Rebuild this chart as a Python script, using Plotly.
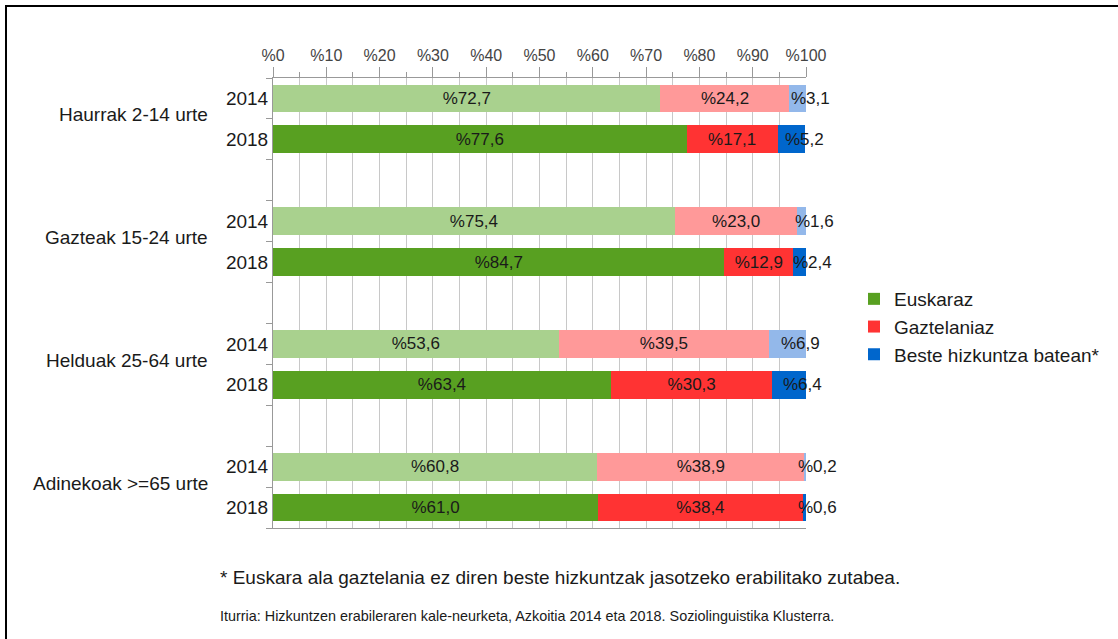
import plotly.graph_objects as go

groups = ["Haurrak 2-14 urte", "Gazteak 15-24 urte", "Helduak 25-64 urte", "Adinekoak >=65 urte"]
years = ["2014", "2018"]
euskaraz_2014 = [72.7, 75.4, 53.6, 60.8]
euskaraz_2018 = [77.6, 84.7, 63.4, 61.0]
gaztelaniaz_2014 = [24.2, 23.0, 39.5, 38.9]
gaztelaniaz_2018 = [17.1, 12.9, 30.3, 38.4]
beste_2014 = [3.1, 1.6, 6.9, 0.2]
beste_2018 = [5.2, 2.4, 6.4, 0.6]
tick_values = list(range(0, 101, 10))
tick_labels = ["%" + str(v) for v in tick_values]

C = {
    "eus": ("#a9d18e", "#58a021"),
    "gaz": ("#ff9999", "#ff3333"),
    "bes": ("#93b8ea", "#0066cc"),
}
FONT = "Liberation Sans, Arial, sans-serif"

def fmt(v):
    return "%" + f"{v:.1f}".replace(".", ",")

pos_2014 = [g * 3 for g in range(len(groups))]
pos_2018 = [g * 3 + 1 for g in range(len(groups))]

fig = go.Figure()
series = [
    ("Euskaraz", "eus", euskaraz_2014, euskaraz_2018),
    ("Gaztelaniaz", "gaz", gaztelaniaz_2014, gaztelaniaz_2018),
    ("Beste hizkuntza batean*", "bes", beste_2014, beste_2018),
]
txtfont = dict(family=FONT, size=17, color="#1a1a1a")
for name, key, v14, v18 in series:
    for yi, (pos, vals) in enumerate([(pos_2014, v14), (pos_2018, v18)]):
        fig.add_trace(go.Bar(
            y=pos, x=vals, orientation="h", name=name,
            marker=dict(color=C[key][yi], line=dict(width=0)),
            text=[fmt(v) for v in vals],
            textposition="none" if key == "bes" else "inside",
            insidetextanchor="middle",
            textfont=txtfont,
            showlegend=(yi == 1), legendgroup=key, legendrank={"eus": 1, "gaz": 2, "bes": 3}[key],
            hoverinfo="skip",
        ))

# labels for the small "other" segments
for pos, e, g, b in [(pos_2014, euskaraz_2014, gaztelaniaz_2014, beste_2014),
                     (pos_2018, euskaraz_2018, gaztelaniaz_2018, beste_2018)]:
    for p, ei, gi, bi in zip(pos, e, g, b):
        fig.add_annotation(x=ei + gi + bi / 2, y=p, xref="x", yref="y", text=fmt(bi),
                           xanchor="center", yanchor="middle", xshift=13, showarrow=False,
                           font=txtfont)

for gi, gname in enumerate(groups):
    fig.add_annotation(x=-0.118, xref="paper", y=gi * 3 + 0.4, yref="y", text=gname,
                       xanchor="right", yanchor="middle", showarrow=False,
                       font=dict(family=FONT, size=19, color="#1a1a1a"))

fig.add_annotation(x=(218 - 273) / 533, xref="paper", y=-(577 - 528) / 450, yref="paper",
                   text="* Euskara ala gaztelania ez diren beste hizkuntzak jasotzeko erabilitako zutabea.",
                   xanchor="left", yanchor="middle", showarrow=False,
                   font=dict(family=FONT, size=19, color="#1a1a1a"))
fig.add_annotation(x=(218 - 273) / 533, xref="paper", y=-(616 - 528) / 450, yref="paper",
                   text="Iturria: Hizkuntzen erabileraren kale-neurketa, Azkoitia 2014 eta 2018. Soziolinguistika Klusterra.",
                   xanchor="left", yanchor="middle", showarrow=False,
                   font=dict(family=FONT, size=14.4, color="#1a1a1a"))

# frame lines (top and left)
fig.add_shape(type="line", xref="paper", yref="paper",
              x0=(5 - 273) / 533, x1=(1118 - 273) / 533, y0=1 + (78 - 6) / 450, y1=1 + (78 - 6) / 450,
              line=dict(color="black", width=2))
fig.add_shape(type="line", xref="paper", yref="paper",
              x0=(6 - 273) / 533, x1=(6 - 273) / 533, y0=1 + (78 - 6) / 450, y1=-(639 - 528) / 450,
              line=dict(color="black", width=2))

fig.update_layout(
    width=1118, height=639, autosize=False,
    margin=dict(l=273, r=312, t=78, b=111),
    paper_bgcolor="white", plot_bgcolor="white",
    barmode="stack", bargap=0.32,
    font=dict(family=FONT, color="#1a1a1a"),
    legend=dict(x=(854 - 273) / 533, y=1 - (280 - 78) / 450, xanchor="left", yanchor="top",
                traceorder="normal",
                font=dict(size=19, color="#1a1a1a"), itemwidth=30, tracegroupgap=0,
                bgcolor="rgba(0,0,0,0)"),
    xaxis=dict(side="top", range=[0, 100], tickvals=tick_values, ticktext=tick_labels,
               ticks="outside", ticklen=10, tickcolor="#999999",
               tickfont=dict(size=16, color="#444444"),
               showgrid=True, gridcolor="#c8c8c8", gridwidth=1,
               minor=dict(dtick=5, tick0=0, ticks="outside", ticklen=5, tickcolor="#999999",
                          showgrid=True, gridcolor="#c8c8c8"),
               showline=True, linecolor="#999999", linewidth=1, mirror=True, zeroline=False,
               fixedrange=True),
    yaxis=dict(range=[10.5, -0.5], tickvals=pos_2014 + pos_2018,
               ticktext=[years[0]] * len(groups) + [years[1]] * len(groups),
               ticks="", tickfont=dict(size=19, color="#1a1a1a"),
               minor=dict(tick0=-0.5, dtick=1, ticks="outside", ticklen=6, tickcolor="#999999", showgrid=False),
               showgrid=False, showline=True, linecolor="#999999", linewidth=1, zeroline=False,
               fixedrange=True),
)

fig.write_html("out.html", config={"displayModeBar": False},
               post_script="document.body.style.margin='0px';")
